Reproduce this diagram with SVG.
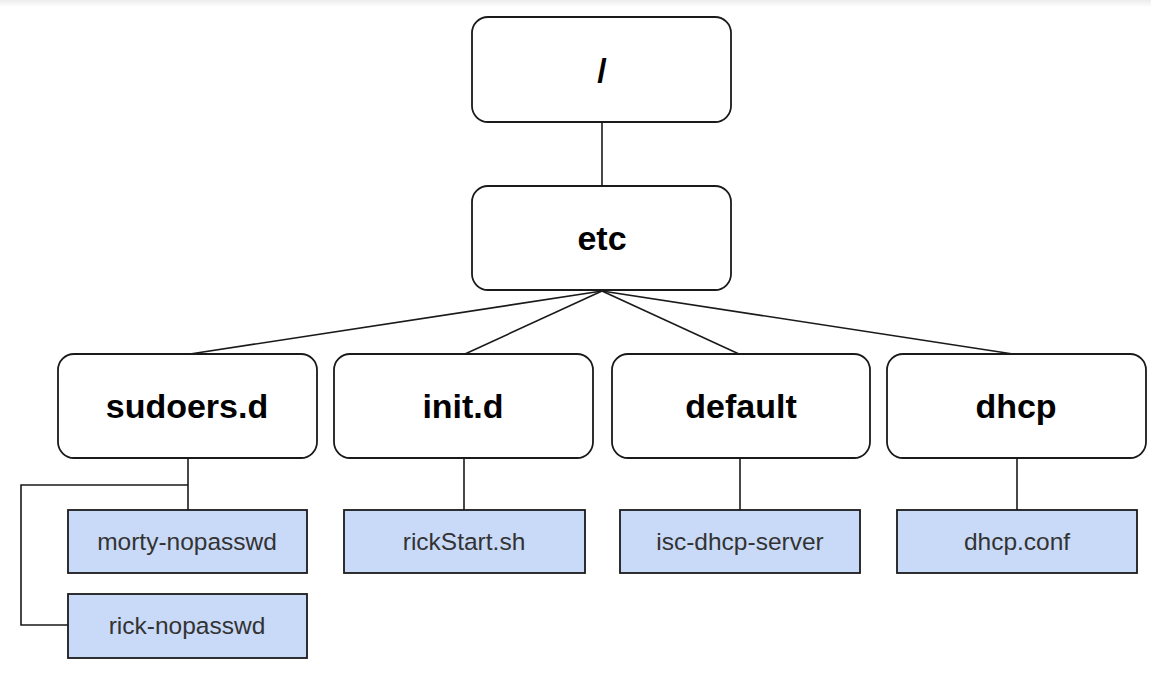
<svg xmlns="http://www.w3.org/2000/svg" width="1151" height="681" viewBox="0 0 1151 681">
<defs>
<linearGradient id="topbar" x1="0" y1="0" x2="0" y2="1">
<stop offset="0" stop-color="#ececec"/>
<stop offset="1" stop-color="#ffffff"/>
</linearGradient>
</defs>
<style>
.dir{fill:#ffffff;stroke:#1a1a1a;stroke-width:1.8}
.file{fill:#c9daf8;stroke:#1a1a1a;stroke-width:1.8}
.dt{font-family:"Liberation Sans",Arial,sans-serif;font-weight:bold;font-size:34px;fill:#000;text-anchor:middle}
.ft{font-family:"Liberation Sans",Arial,sans-serif;font-size:24.5px;fill:#333;text-anchor:middle}
.c{fill:none;stroke:#1a1a1a;stroke-width:1.6}
</style>
<rect x="0" y="0" width="1151" height="681" fill="#fff"/>
<rect x="0" y="0" width="1151" height="7" fill="url(#topbar)"/>
<g id="connectors">
<line class="c" x1="602" y1="122" x2="602" y2="186"/>
<line class="c" x1="602" y1="291" x2="190" y2="354"/>
<line class="c" x1="602" y1="291" x2="465" y2="354"/>
<line class="c" x1="602" y1="291" x2="739" y2="354"/>
<line class="c" x1="602" y1="291" x2="1013" y2="354"/>
<polyline class="c" points="188,458 188,510"/>
<polyline class="c" points="188,485 21,485 21,625 68,625"/>
<line class="c" x1="464" y1="458" x2="464" y2="510"/>
<line class="c" x1="740" y1="458" x2="740" y2="510"/>
<line class="c" x1="1017" y1="458" x2="1017" y2="510"/>
</g>
<g id="root"><rect class="dir" x="472" y="17" width="259" height="105" rx="16"/><text class="dt" x="602" y="82">/</text></g>
<g id="etc"><rect class="dir" x="472" y="186" width="259" height="104" rx="16"/><text class="dt" x="602" y="250">etc</text></g>
<g id="sudoers"><rect class="dir" x="58" y="354" width="259" height="104" rx="16"/><text class="dt" x="187" y="418">sudoers.d</text></g>
<g id="initd"><rect class="dir" x="334" y="354" width="259" height="104" rx="16"/><text class="dt" x="463" y="418">init.d</text></g>
<g id="default"><rect class="dir" x="612" y="354" width="258" height="104" rx="16"/><text class="dt" x="741" y="418">default</text></g>
<g id="dhcp"><rect class="dir" x="887" y="354" width="259" height="104" rx="16"/><text class="dt" x="1016" y="418">dhcp</text></g>
<g id="morty"><rect class="file" x="68" y="510" width="239" height="63"/><text class="ft" x="187" y="550">morty-nopasswd</text></g>
<g id="rick"><rect class="file" x="68" y="594" width="239" height="64"/><text class="ft" x="187" y="634">rick-nopasswd</text></g>
<g id="rickstart"><rect class="file" x="344" y="510" width="241" height="63"/><text class="ft" x="464" y="550">rickStart.sh</text></g>
<g id="isc"><rect class="file" x="620" y="510" width="240" height="63"/><text class="ft" x="740" y="550">isc-dhcp-server</text></g>
<g id="dhcpconf"><rect class="file" x="897" y="510" width="240" height="63"/><text class="ft" x="1017" y="550">dhcp.conf</text></g>
</svg>
